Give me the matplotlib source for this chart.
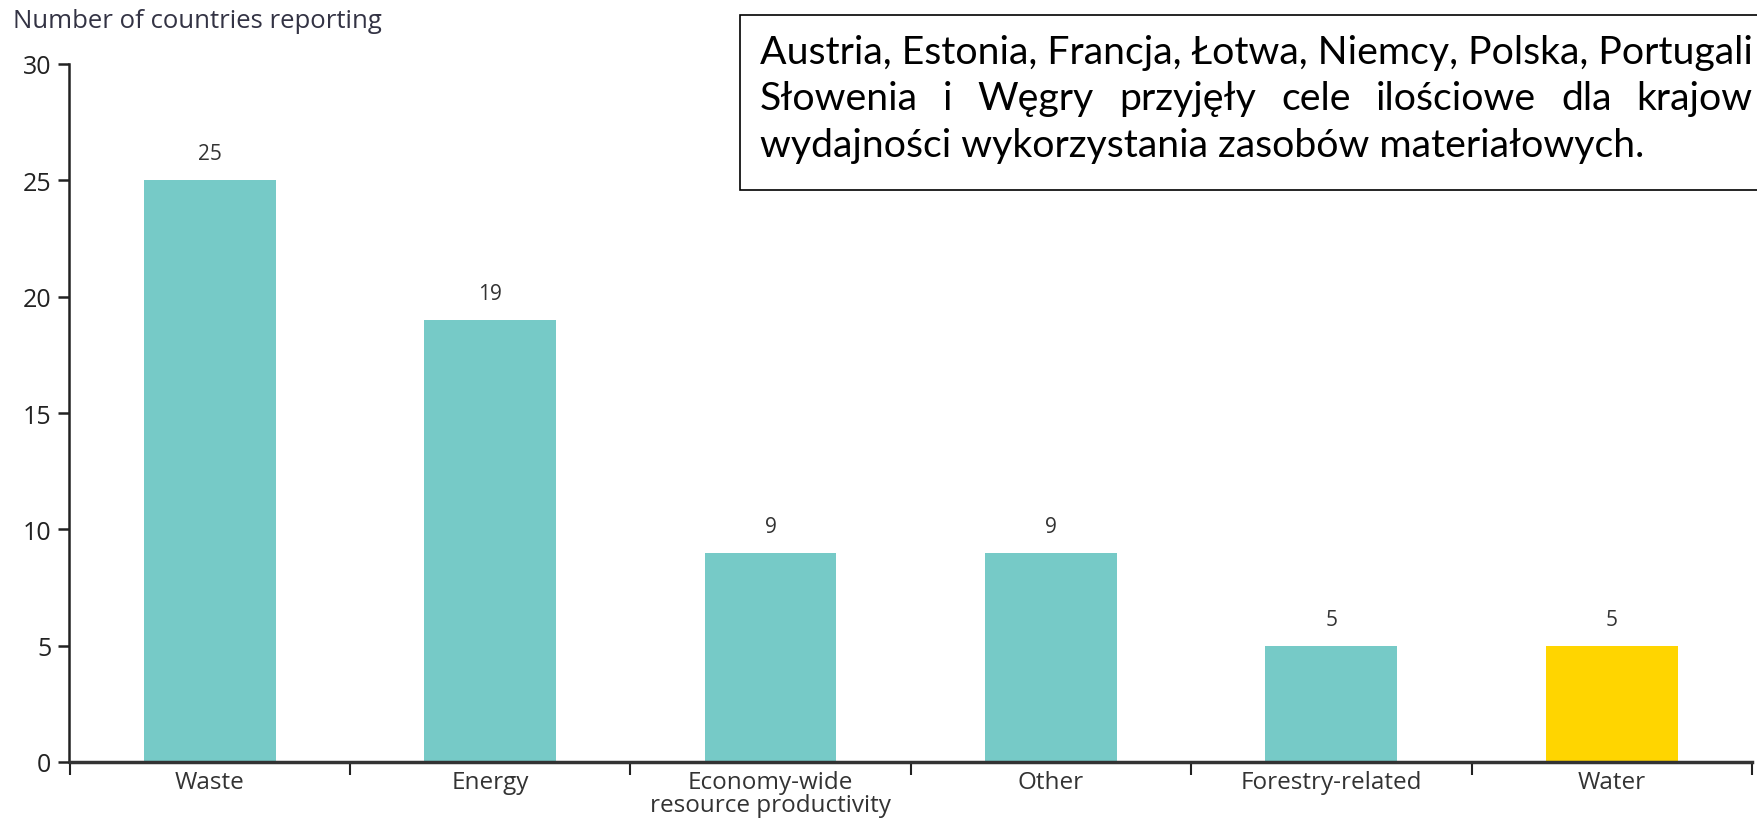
import matplotlib
matplotlib.use("Agg")
import matplotlib.pyplot as plt
import numpy as np

categories = ["Waste", "Energy", "Economy-wide\nresource productivity", "Other", "Forestry-related", "Water"]
values = [25, 19, 9, 9, 5, 5]
colors = ["#76CAC7", "#76CAC7", "#76CAC7", "#76CAC7", "#76CAC7", "#FFD500"]
yticks = [0, 5, 10, 15, 20, 25, 30]
ylabel = "Number of countries reporting"
# note text as visible in the reference (cut at the picture's right edge)
note_lines = [
    "Austria, Estonia, Francja, Łotwa, Niemcy, Polska, Portugali",
    "Słowenia i Węgry przyjęły cele ilościowe dla krajow",
    "wydajności wykorzystania zasobów materiałowych.",
]

plt.rcParams['font.family'] = ['Open Sans', 'DejaVu Sans']
W, H = 1758, 829
fig = plt.figure(figsize=(W / 100, H / 100), dpi=100)
ax = fig.add_axes([69.5 / W, 1 - 763 / H, (1752 - 69.5) / W, (763 - 65) / H])

x = np.arange(len(categories))
bars = ax.bar(x, values, width=0.47, color=colors, zorder=2)
for xi, v in zip(x, values):
    ax.annotate(str(v), (xi, v), xytext=(0, 19), textcoords="offset points",
                ha="center", va="center", fontsize=15, color="#333333")

ax.set_xlim(-0.5, len(categories) - 0.5)
ax.set_ylim(0, 30)
ax.set_yticks(yticks)
ax.set_yticklabels([str(t) for t in yticks], fontsize=18, color="#222222")
ax.set_xticks(x)
ax.set_xticklabels(categories, fontsize=17.5, color="#333333", linespacing=0.95)
ax.set_xticks(np.arange(-0.5, len(categories)), minor=True)
ax.tick_params(axis="x", which="major", length=0, pad=6)
ax.tick_params(axis="x", which="minor", length=9, width=1.5, color="#222222", direction="out")
ax.tick_params(axis="y", length=8, width=1.8, color="#222222", direction="out", pad=5)
for s in ["top", "right"]:
    ax.spines[s].set_visible(False)
ax.spines["left"].set_linewidth(1.8)
ax.spines["left"].set_color("#222222")
ax.spines["bottom"].set_linewidth(2.5)
ax.spines["bottom"].set_color("#333333")

fig.text(13 / W, 1 - 21 / H, ylabel, fontsize=18.5, color="#333344", ha="left", va="center")

# annotation box
box = plt.Rectangle((740 / W, 1 - 191 / H), (1800 - 740) / W, (191 - 16) / H,
                    transform=fig.transFigure, fill=True, facecolor="white",
                    edgecolor="black", linewidth=1.2, zorder=5)
fig.add_artist(box)

x0 = 760
target_w = W - 4 - x0
ys = [53, 99, 146]
renderer = fig.canvas.get_renderer()

def width_px(s, fs):
    t = fig.text(0, 0, s, fontsize=fs, family=['Lato', 'DejaVu Sans'])
    w = t.get_window_extent(renderer).width
    t.remove()
    return w

fs = 28 * target_w / width_px(note_lines[0], 28)
note_font = dict(fontsize=fs, family=['Lato', 'DejaVu Sans'], color="black", va="center", zorder=6)
full_w = width_px(note_lines[0], fs)
for i, (line, yy) in enumerate(zip(note_lines, ys)):
    if i == 1:
        words = line.split(" ")
        ws = [width_px(w, fs) for w in words]
        gap = (full_w - sum(ws)) / (len(words) - 1)
        cx = x0
        for w, wpx in zip(words, ws):
            fig.text(cx / W, 1 - yy / H, w, ha="left", **note_font)
            cx += wpx + gap
    else:
        fig.text(x0 / W, 1 - yy / H, line, ha="left", **note_font)

fig.savefig("out.png", dpi=100)
